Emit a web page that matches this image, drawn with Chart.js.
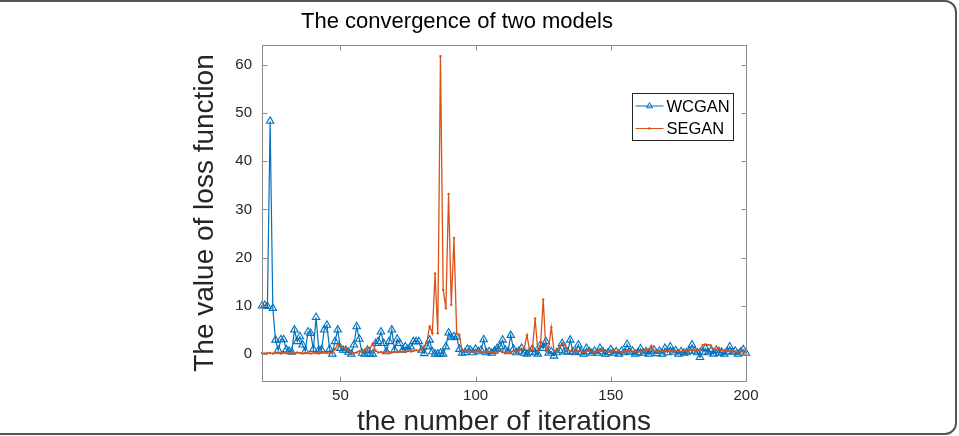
<!DOCTYPE html>
<html><head><meta charset="utf-8">
<script src="https://cdn.jsdelivr.net/npm/chart.js@4.4.1/dist/chart.umd.min.js"></script>
<style>
html,body{margin:0;padding:0;background:#fff;}
#wrap{position:relative;width:959px;height:436px;overflow:hidden;}
#frame{position:absolute;left:-20px;top:0;width:973px;height:431px;border:2px solid #555;border-radius:12px;pointer-events:none;}
canvas{display:block}
</style></head><body>
<div id="wrap"><canvas id="c" width="959" height="436"></canvas><div id="frame"></div></div>
<script>
// ---- data ----
const chartTitle = 'The convergence of two models';
const xTitle = 'the number of iterations';
const yTitle = 'The value of loss function';
const firstIteration = 21;
const xTicks = [50, 100, 150, 200];
const yTicks = [0, 10, 20, 30, 40, 50, 60];
const seriesNames = ['WCGAN', 'SEGAN'];
const wcgan = [
  10.0,10.1,9.9,48.3,9.5,2.9,0.8,3.0,3.0,0.9,
  0.6,0.4,5.0,2.6,3.6,1.9,0.6,4.6,4.3,1.0,
  7.6,0.8,0.9,5.0,6.0,1.0,0.0,2.6,5.0,1.2,
  0.8,0.8,0.4,0.0,1.9,5.7,3.1,0.2,0.0,0.8,
  0.0,0.0,2.2,2.6,4.6,2.2,0.5,2.6,5.0,0.8,
  3.1,2.2,0.8,1.5,1.0,1.5,2.6,2.6,2.6,0.8,
  0.1,1.5,2.9,0.5,0.0,0.0,0.2,0.0,1.5,4.4,
  3.4,3.6,3.5,1.0,0.2,0.3,1.0,0.8,0.3,1.0,
  0.5,0.8,3.0,0.3,0.5,0.2,0.6,1.2,1.5,2.9,
  0.8,0.5,3.9,1.0,0.3,0.6,1.2,0.2,0.0,0.4,
  1.0,0.3,0.0,1.9,1.2,2.6,0.2,0.5,-0.4,0.3,
  0.8,2.2,0.5,0.4,2.9,0.5,0.3,1.9,0.4,0.0,
  1.2,0.5,0.2,0.6,0.2,1.2,0.5,0.0,0.3,0.9,
  0.2,0.5,0.0,0.6,0.3,2.0,0.4,0.6,0.0,0.3,
  1.1,0.2,0.5,0.0,0.5,0.8,0.1,0.6,0.0,1.2,
  0.3,1.5,0.4,0.7,0.0,0.5,0.2,0.3,0.6,1.9,
  0.6,0.3,-0.7,0.4,1.2,0.3,0.6,0.0,0.8,0.2,
  0.4,0.0,0.5,1.5,0.4,0.6,0.0,0.4,0.9,0.2
];
const segan = [
  0.2,0.1,0.2,0.2,0.1,0.2,0.2,0.1,0.2,0.2,
  0.1,0.2,0.2,0.3,0.2,0.1,0.2,0.2,0.1,0.2,
  0.2,0.1,0.2,0.3,0.2,0.2,0.3,1.0,1.9,1.5,
  1.3,1.1,0.7,0.3,0.2,0.3,0.6,0.4,0.9,1.1,
  1.3,2.2,0.7,0.3,0.4,0.3,0.5,0.4,0.3,0.5,
  0.4,0.6,0.5,0.4,0.7,0.5,0.6,0.8,0.6,1.0,
  1.6,2.6,5.7,4.3,16.7,4.3,61.8,13.3,9.5,33.2,
  10.2,24.1,4.3,4.0,0.6,0.7,0.5,0.6,0.4,0.5,
  0.7,0.5,0.4,0.6,0.5,0.3,0.4,0.5,0.6,0.4,
  0.3,0.5,0.4,0.6,0.5,0.7,0.9,1.2,3.9,0.6,
  0.9,7.4,0.6,1.8,11.3,0.7,1.4,5.5,0.6,0.5,
  1.4,2.3,2.0,0.9,0.6,0.5,0.7,0.6,0.5,0.4,
  0.6,0.7,0.5,0.4,0.6,0.8,0.5,0.6,0.4,0.5,
  0.7,0.5,0.6,0.4,0.5,0.8,0.6,0.5,0.7,0.4,
  0.6,0.5,0.9,1.0,1.7,0.6,0.5,0.7,0.6,0.5,
  0.8,0.6,0.5,0.7,0.6,0.5,0.7,0.6,0.8,0.9,
  0.7,0.6,1.0,1.9,2.0,1.9,1.8,1.0,0.9,1.3,
  0.8,0.6,0.7,0.5,0.6,0.5,0.4,0.6,0.5,0.4
];
const xRange = [21, 200];
const yRange = [-5.6, 64.1];

// ---- chart ----
const BLUE = '#0072BD', ORANGE = '#D95319', TXT = '#262626';
Chart.defaults.font.family = '"Liberation Sans", Arial, Helvetica, sans-serif';
Chart.defaults.color = TXT;

const toPts = arr => arr.map((v, i) => ({x: firstIteration + i, y: v}));

function triPath(ctx, cx, cy, r) {
  ctx.beginPath();
  for (let k = 0; k < 3; k++) {
    const a = k * 2 * Math.PI / 3;
    const px = cx + Math.sin(a) * r, py = cy - Math.cos(a) * r;
    k ? ctx.lineTo(px, py) : ctx.moveTo(px, py);
  }
  ctx.closePath();
}

const axesBox = {
  id: 'axesBox',
  afterDatasetsDraw(chart) {
    const {ctx, chartArea: a, scales: {x, y}} = chart;
    ctx.save();
    ctx.strokeStyle = '#8c8c8c';
    ctx.lineWidth = 1;
    const l = Math.round(a.left) + 0.5, r = Math.round(a.right) + 0.5;
    const t = Math.round(a.top) + 0.5, b = Math.round(a.bottom) + 0.5;
    ctx.strokeRect(l, t, r - l, b - t);
    const L = 5;
    ctx.beginPath();
    x.ticks.forEach(tk => {
      const px = Math.round(x.getPixelForValue(tk.value)) + 0.5;
      ctx.moveTo(px, b); ctx.lineTo(px, b - L);
      ctx.moveTo(px, t); ctx.lineTo(px, t + L);
    });
    y.ticks.forEach(tk => {
      const py = Math.round(y.getPixelForValue(tk.value)) + 0.5;
      ctx.moveTo(l, py); ctx.lineTo(l + L, py);
      ctx.moveTo(r, py); ctx.lineTo(r - L, py);
    });
    ctx.stroke();
    ctx.restore();
  }
};

const boxLegend = {
  id: 'boxLegend',
  afterDraw(chart) {
    const {ctx, chartArea: a} = chart;
    const bw = 101, bh = 47;
    const bx = Math.round(a.right) - 13 - bw + 0.5, by = Math.round(a.top) + 48 + 0.5;
    ctx.save();
    ctx.fillStyle = '#fff';
    ctx.fillRect(bx, by, bw, bh);
    ctx.strokeStyle = '#262626';
    ctx.lineWidth = 1;
    ctx.strokeRect(bx, by, bw, bh);
    ctx.font = '16.5px "Liberation Sans", Arial, sans-serif';
    ctx.textBaseline = 'middle';
    ctx.textAlign = 'left';
    chart.data.datasets.forEach((ds, i) => {
      const cy = by + 12.5 + i * 22.5;
      const x0 = bx + 3, x1 = bx + 31, xm = (x0 + x1) / 2;
      ctx.strokeStyle = ds.borderColor;
      ctx.lineWidth = 1;
      ctx.beginPath(); ctx.moveTo(x0, cy); ctx.lineTo(x1, cy); ctx.stroke();
      if (ds.pointStyle === 'triangle') {
        triPath(ctx, xm, cy, 3.5); ctx.stroke();
      } else {
        ctx.fillStyle = ds.borderColor;
        ctx.beginPath(); ctx.arc(xm, cy, 1.3, 0, Math.PI * 2); ctx.fill();
      }
      ctx.fillStyle = '#000';
      ctx.fillText(ds.label, x1 + 3, cy + 1);
    });
    ctx.restore();
  }
};

new Chart(document.getElementById('c'), {
  type: 'line',
  data: {
    datasets: [
      {label: seriesNames[0], data: toPts(wcgan), borderColor: BLUE, backgroundColor: BLUE,
       borderWidth: 1.2, pointStyle: 'triangle', pointRadius: 4.3, pointBorderWidth: 1.1,
       pointBackgroundColor: 'rgba(255,255,255,0)', pointBorderColor: BLUE, tension: 0, clip: false, order: 1},
      {label: seriesNames[1], data: toPts(segan), borderColor: ORANGE, backgroundColor: ORANGE,
       borderWidth: 1.3, pointStyle: 'circle', pointRadius: 1.2, pointBorderWidth: 0,
       pointBackgroundColor: ORANGE, tension: 0, clip: false, order: 0}
    ]
  },
  options: {
    responsive: false, animation: false, devicePixelRatio: 1,
    layout: {padding: {left: 168, right: 213, top: 0, bottom: 0}},
    plugins: {
      legend: {display: false},
      tooltip: {enabled: false},
      title: {display: true, text: chartTitle, color: '#000',
              font: {size: 22, weight: 'normal', lineHeight: 1}, padding: {top: 11, bottom: 12}}
    },
    scales: {
      x: {type: 'linear', min: xRange[0], max: xRange[1],
          afterBuildTicks: s => { s.ticks = xTicks.map(v => ({value: v})); },
          afterFit: s => { s.height = 55; },
          grid: {display: true, drawOnChartArea: false, drawTicks: false},
          border: {display: false},
          ticks: {font: {size: 15}, color: TXT, padding: 6, maxRotation: 0},
          title: {display: true, text: xTitle, color: TXT, font: {size: 28, lineHeight: 1}, padding: {top: 0, bottom: 0}}},
      y: {type: 'linear', min: yRange[0], max: yRange[1],
          afterBuildTicks: s => { s.ticks = yTicks.map(v => ({value: v})); },
          afterFit: s => { s.width = 94; },
          grid: {display: true, drawOnChartArea: false, drawTicks: false},
          border: {display: false},
          ticks: {font: {size: 15}, color: TXT, padding: 10},
          title: {display: true, text: yTitle, color: TXT, font: {size: 28, lineHeight: 1}, padding: {top: 23, bottom: 0}}}
    }
  },
  plugins: [axesBox, boxLegend]
});
</script>
</body></html>
